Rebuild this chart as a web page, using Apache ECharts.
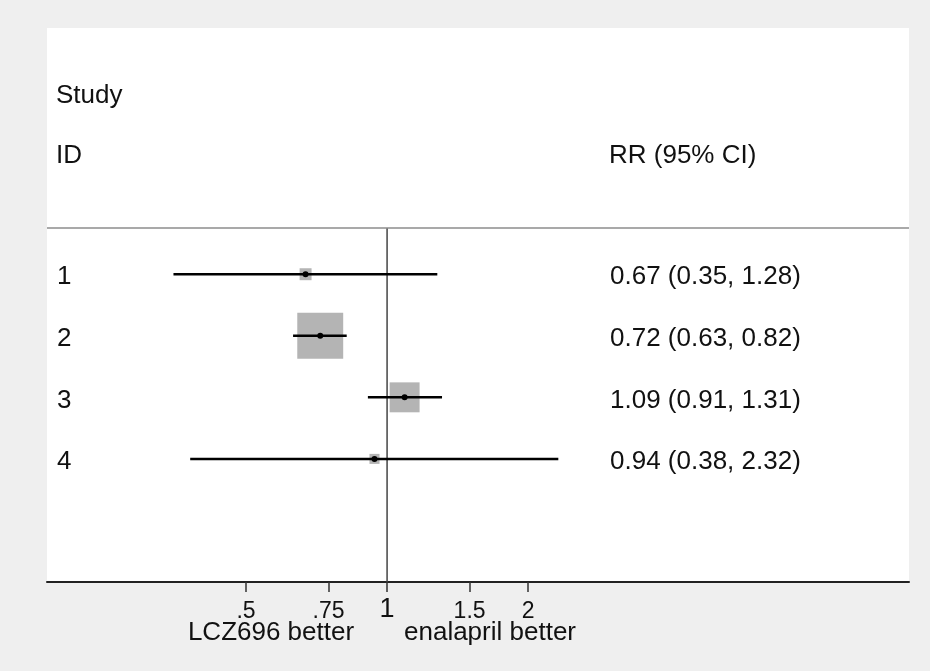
<!DOCTYPE html>
<html>
<head>
<meta charset="utf-8">
<script src="https://cdn.jsdelivr.net/npm/echarts@6/dist/echarts.min.js"></script>
<style>
html,body{margin:0;padding:0;background:#efefef;}
#chart{width:930px;height:671px;}
</style>
</head>
<body>
<div id="chart"></div>
<script>
// ---- data ----
const studyIds = ['1', '2', '3', '4'];
const rr = [0.67, 0.72, 1.09, 0.94];
const ciLow = [0.35, 0.63, 0.91, 0.38];
const ciHigh = [1.28, 0.82, 1.31, 2.32];
const weights = [4.4, 64.9, 27.6, 3.1];
const rrLabels = ['0.67 (0.35, 1.28)', '0.72 (0.63, 0.82)', '1.09 (0.91, 1.31)', '0.94 (0.38, 2.32)'];
const tickValues = [0.5, 0.75, 1, 1.5, 2];
const tickLabels = ['.5', '.75', '1', '1.5', '2'];
const headerStudy = 'Study';
const headerId = 'ID';
const headerRR = 'RR (95% CI)';
const favourLeft = 'LCZ696 better';
const favourRight = 'enalapril better';
const nullValue = 1;

// ---- layout constants ----
const FONT = '"Liberation Sans", Arial, sans-serif';
const yMin = -3, yMax = 6, headerRule = 0.25;

const rows = rr.map((v, i) => [v, i + 1, ciLow[i], ciHigh[i], weights[i]]);

const chart = echarts.init(document.getElementById('chart'), null, {renderer: 'canvas'});

const option = {
  backgroundColor: '#efefef',
  animation: false,
  grid: {left: 47, right: 21, top: 28, bottom: 89, show: true, backgroundColor: '#ffffff', borderWidth: 0},
  xAxis: {
    type: 'log',
    logBase: Math.E,
    min: 0.188,
    max: 13.0,
    axisLine: {show: true, onZero: false, lineStyle: {color: '#222', width: 2}},
    axisTick: {show: true, customValues: tickValues, length: 10, lineStyle: {color: '#333', width: 1.5}},
    minorTick: {show: false},
    splitLine: {show: false},
    axisLabel: {
      show: true,
      customValues: tickValues,
      margin: 14,
      formatter: function (v) {
        let idx = 0, best = Infinity;
        tickValues.forEach((t, i) => { const d = Math.abs(t - v); if (d < best) { best = d; idx = i; } });
        const lab = tickLabels[idx];
        return tickValues[idx] === nullValue ? '{big|' + lab + '}' : '{s|' + lab + '}';
      },
      rich: {
        s: {fontSize: 23, fontFamily: FONT, color: '#111', lineHeight: 32},
        big: {fontSize: 27, fontFamily: FONT, color: '#111', lineHeight: 27}
      }
    }
  },
  yAxis: {
    type: 'value',
    inverse: true,
    min: yMin,
    max: yMax,
    axisLine: {show: false},
    axisTick: {show: false},
    splitLine: {show: false},
    axisLabel: {
      show: true,
      inside: true,
      margin: 10,
      customValues: studyIds.map((s, i) => i + 1),
      formatter: function (v) { return '{id|' + (studyIds[Math.round(v) - 1] || '') + '}'; },
      rich: {
        id: {fontSize: 26, fontFamily: FONT, color: '#111', lineHeight: 26, padding: [6, 0, 0, 0]}
      }
    }
  },
  series: [
    {
      type: 'line',
      data: [[nullValue, headerRule], [nullValue, yMax]],
      symbol: 'none',
      lineStyle: {color: '#444', width: 1.5},
      silent: true,
      z: 1,
      markLine: {
        silent: true,
        symbol: 'none',
        label: {show: false},
        lineStyle: {color: '#8c8c8c', width: 1.5, type: 'solid'},
        data: [{yAxis: headerRule}]
      }
    },
    {
      type: 'custom',
      z: 3,
      clip: false,
      encode: {x: [0, 2, 3], y: 1},
      data: rows,
      renderItem: function (params, api) {
        const yv = api.value(1);
        const p = api.coord([api.value(0), yv]);
        const pl = api.coord([api.value(2), yv]);
        const ph = api.coord([api.value(3), yv]);
        const s = 5.7 * Math.sqrt(api.value(4));
        return {
          type: 'group',
          children: [
            {type: 'rect', shape: {x: p[0] - s / 2, y: p[1] - s / 2, width: s, height: s}, style: {fill: '#b4b4b4'}},
            {type: 'line', shape: {x1: pl[0], y1: p[1], x2: ph[0], y2: p[1]}, style: {stroke: '#000', lineWidth: 2.5}},
            {type: 'circle', shape: {cx: p[0], cy: p[1], r: 3}, style: {fill: '#000'}},
            {type: 'text', x: 610, y: p[1] + 3, style: {text: rrLabels[params.dataIndex], fontSize: 26, fontFamily: FONT, fill: '#111', align: 'left', verticalAlign: 'middle'}}
          ]
        };
      }
    }
  ],
  graphic: [
    {type: 'text', x: 56, y: 96, style: {text: headerStudy, fontSize: 26, fontFamily: FONT, fill: '#111', align: 'left', verticalAlign: 'middle'}},
    {type: 'text', x: 56, y: 156, style: {text: headerId, fontSize: 26, fontFamily: FONT, fill: '#111', align: 'left', verticalAlign: 'middle'}},
    {type: 'text', x: 609, y: 156, style: {text: headerRR, fontSize: 26, fontFamily: FONT, fill: '#111', align: 'left', verticalAlign: 'middle'}},
    {type: 'text', x: 271, y: 633, z: 10, style: {text: favourLeft, fontSize: 26, fontFamily: FONT, fill: '#111', align: 'center', verticalAlign: 'middle'}},
    {type: 'text', x: 490, y: 633, z: 10, style: {text: favourRight, fontSize: 26, fontFamily: FONT, fill: '#111', align: 'center', verticalAlign: 'middle'}}
  ]
};

chart.setOption(option);
</script>
</body>
</html>
